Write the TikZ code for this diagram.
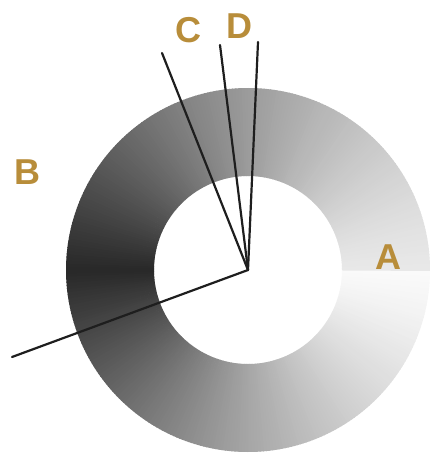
\documentclass[tikz,border=0pt]{standalone}
\usepackage{fontspec}
\setmainfont{Liberation Sans}
\definecolor{lbl}{RGB}{184,141,58}
\definecolor{ln}{RGB}{30,30,30}
\begin{document}
\begin{tikzpicture}[x=1pt,y=-1pt,
  lab/.style={text=lbl,font=\fontsize{36}{36}\selectfont\bfseries,inner sep=0pt},
  ray/.style={draw=ln,line width=2.2pt,line cap=round}]
\useasboundingbox (0,0) rectangle (431,454);
\coordinate (O) at (248,270);
\foreach \a in {0,...,359} {
  \pgfmathsetmacro\t{\a+0.5}
  \pgfmathsetmacro\g{\t<=180 ? 250-210*(\t/180)^1.32 : 232-192*((360-\t)/180)^1.32}
  \pgfmathsetmacro\p{100-\g/2.55}
  \pgfmathsetmacro\e{\a+1.3}
  \fill[black!\p, shift={(248,270)}] (\a:182) arc[start angle=\a, end angle=\e, radius=182]
     -- (\e:94) arc[start angle=\e, end angle=\a, radius=94] -- cycle;
}
\coordinate (eB) at (12,357);
\coordinate (eC) at (162,53);
\coordinate (eM) at (220,45);
\coordinate (eD) at (258,42);
\draw[ray] (O) -- (eB);
\draw[ray] (O) -- (eC);
\draw[ray] (O) -- (eM);
\draw[ray] (O) -- (eD);
\node[lab] (A) at (388,257) {A};
\node[lab] (B) at (27.5,172.5) {B};
\node[lab] (C) at (188.5,30) {C};
\node[lab] (D) at (239,26) {D};
\end{tikzpicture}
\end{document}
